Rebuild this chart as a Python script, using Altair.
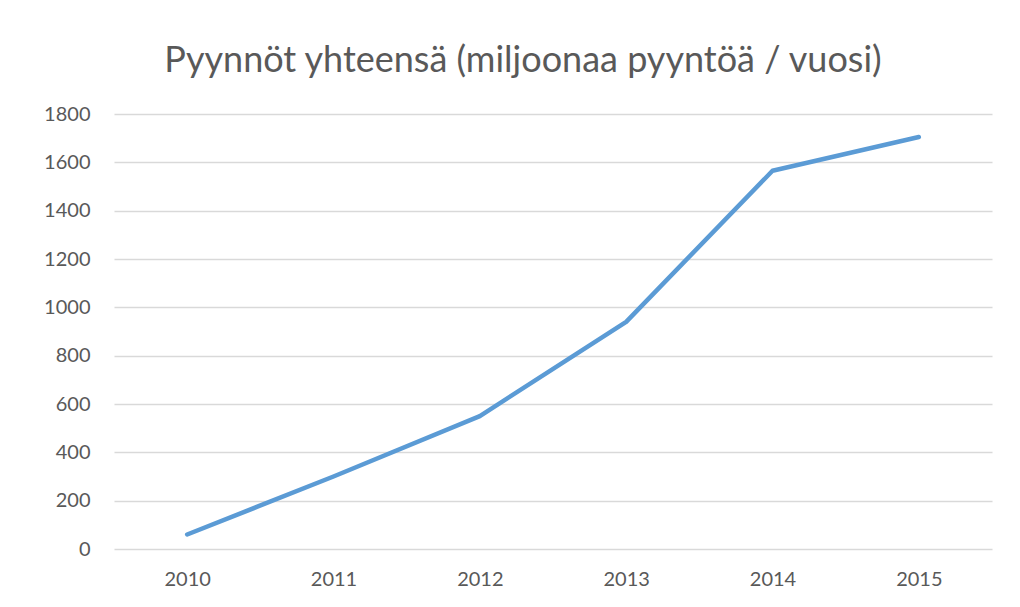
import altair as alt
import pandas as pd

years = ["2010", "2011", "2012", "2013", "2014", "2015"]
requests = [60, 300, 550, 940, 1565, 1705]

df = pd.DataFrame({"year": years, "value": requests})

FONT = "Lato"
GREY = "#595959"

chart = (
    alt.Chart(df)
    .mark_line(color="#5b9bd5", strokeWidth=4.5, strokeCap="round", strokeJoin="round")
    .encode(
        x=alt.X(
            "year:N",
            sort=years,
            scale=alt.Scale(type="point", padding=0.5),
            axis=alt.Axis(
                title=None,
                labelAngle=0,
                labelFontSize=20,
                labelColor=GREY,
                labelFont=FONT,
                labelPadding=20,
                ticks=False,
                domain=False,
                grid=False,
            ),
        ),
        y=alt.Y(
            "value:Q",
            scale=alt.Scale(domain=[0, 1800], nice=False),
            axis=alt.Axis(
                title=None,
                values=list(range(0, 1801, 200)),
                format="d",
                labelFontSize=20,
                labelColor=GREY,
                labelFont=FONT,
                labelPadding=24,
                ticks=False,
                domain=False,
                grid=True,
                gridColor="#d9d9d9",
                gridWidth=1.5,
            ),
        ),
    )
    .properties(
        width=878,
        height=435,
        background="white",
        title=alt.TitleParams(
            "Pyynnöt yhteensä (miljoonaa pyyntöä / vuosi)",
            fontSize=36,
            font=FONT,
            fontWeight="normal",
            color=GREY,
            anchor="middle",
            dx=-30,
            offset=24,
        ),
        autosize=alt.AutoSizeParams(type="none"),
        padding={"left": 106, "top": 106, "right": 20, "bottom": 50},
    )
    .configure_view(stroke=None, strokeWidth=0)
)

chart.save("out.html", embed_options={"renderer": "svg", "actions": False})
